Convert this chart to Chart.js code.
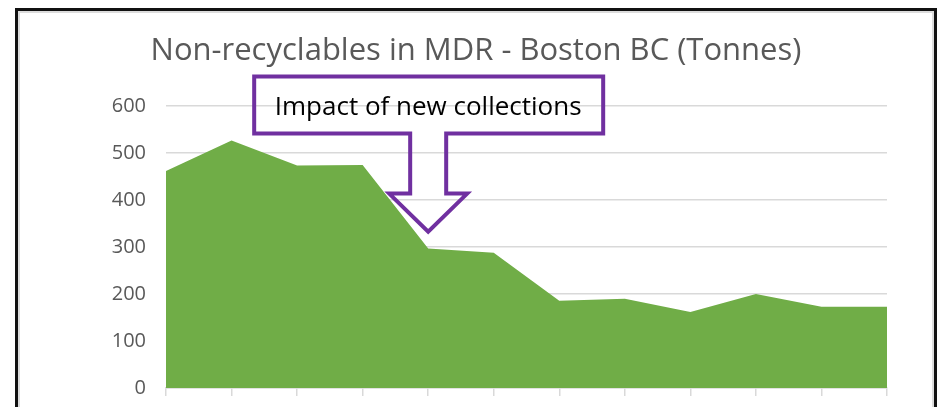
<!DOCTYPE html>
<html>
<head>
<meta charset="utf-8">
<title>Non-recyclables in MDR - Boston BC</title>
<script src="https://cdn.jsdelivr.net/npm/chart.js@4.4.0/dist/chart.umd.min.js"></script>
<style>
	html, body { margin: 0; padding: 0; background: #ffffff; overflow: hidden; }
	#wrap { position: relative; width: 939px; height: 407px; }
	#frame {
		position: absolute; left: 15px; top: 8px; width: 916px; height: 500px;
		border: 3px solid #111111; box-shadow: inset 2px 2px 0 0 #dcdcdc, inset -2px 0 0 0 #dcdcdc;
	}
	#chart { position: absolute; left: 0; top: 0; }
</style>
</head>
<body>
<div id="wrap">
	<div id="frame"></div>
	<canvas id="chart" width="939" height="407"></canvas>
</div>
<script>
// values (tonnes per period)
let periods = ['P1', 'P2', 'P3', 'P4', 'P5', 'P6', 'P7', 'P8', 'P9', 'P10', 'P11', 'P12'];
let tonnes = [462, 527, 474, 475, 297, 288, 186, 190, 162, 200, 173, 173];
let yTicks = [0, 100, 200, 300, 400, 500, 600];

let chartTitle = 'Non-recyclables in MDR - Boston BC (Tonnes)';
let calloutText = 'Impact of new collections';
let calloutIndex = 4;      // category the arrow points at
let calloutValue = 333;    // value at the arrow tip

// down-arrow callout, anchored on the data scales
let calloutPlugin = {
	id: 'callout',
	afterDraw: function(chart)
	{
		let ctx = chart.ctx;
		let tx = chart.scales.x.getPixelForValue(calloutIndex);
		let ty = chart.scales.y.getPixelForValue(calloutValue);

		ctx.save();
		ctx.beginPath();
		ctx.moveTo(tx - 174, ty - 155);
		ctx.lineTo(tx + 175, ty - 155);
		ctx.lineTo(tx + 175, ty - 98);
		ctx.lineTo(tx + 18, ty - 98);
		ctx.lineTo(tx + 18, ty - 38);
		ctx.lineTo(tx + 39, ty - 38);
		ctx.lineTo(tx, ty);
		ctx.lineTo(tx - 39, ty - 38);
		ctx.lineTo(tx - 18, ty - 38);
		ctx.lineTo(tx - 18, ty - 98);
		ctx.lineTo(tx - 174, ty - 98);
		ctx.closePath();
		ctx.lineWidth = 4;
		ctx.lineJoin = 'miter';
		ctx.strokeStyle = '#7030a0';
		ctx.stroke();

		ctx.fillStyle = '#000000';
		ctx.font = '26px "Open Sans"';
		ctx.textAlign = 'center';
		ctx.textBaseline = 'alphabetic';
		ctx.fillText(calloutText, tx, ty - 117);
		ctx.restore();
	}
};

let ctx = document.getElementById('chart').getContext('2d');
let myChart = new Chart(ctx, {
	type: 'line',
	data: {
		labels: periods,
		datasets: [{
			data: tonnes,
			fill: 'origin',
			backgroundColor: '#70ad47',
			borderWidth: 0,
			pointRadius: 0,
			tension: 0
		}]
	},
	options: {
		responsive: false,
		animation: false,
		layout: {
			padding: { left: 65, right: 52, top: 0, bottom: 11 }
		},
		plugins: {
			legend: { display: false },
			tooltip: { enabled: false },
			title: {
				display: true,
				text: chartTitle,
				color: '#595959',
				font: { family: '"Open Sans"', size: 31, weight: 'normal', lineHeight: 1.2 },
				padding: { top: 33, bottom: 36 }
			}
		},
		scales: {
			x: {
				offset: false,
				afterFit: function(scale) { scale.height = 8; },
				ticks: { display: false },
				grid: {
					offset: false,
					drawOnChartArea: false,
					drawTicks: true,
					tickLength: 8,
					color: '#d9d9d9',
					lineWidth: 1.5
				},
				border: { display: true, color: '#d9d9d9', width: 1.5 }
			},
			y: {
				min: 0,
				max: 600,
				afterFit: function(scale) {
					scale.width = 101;
					scale.paddingTop = 0;
					scale.paddingBottom = 0;
				},
				afterBuildTicks: function(scale) { scale.ticks = yTicks.map(function(v) { return { value: v }; }); },
				ticks: {
					color: '#595959',
					padding: 20,
					font: { family: '"Open Sans"', size: 20 }
				},
				grid: {
					color: '#d9d9d9',
					lineWidth: 1.5,
					drawTicks: false
				},
				border: { display: false }
			}
		}
	},
	plugins: [calloutPlugin]
});
</script>
</body>
</html>
